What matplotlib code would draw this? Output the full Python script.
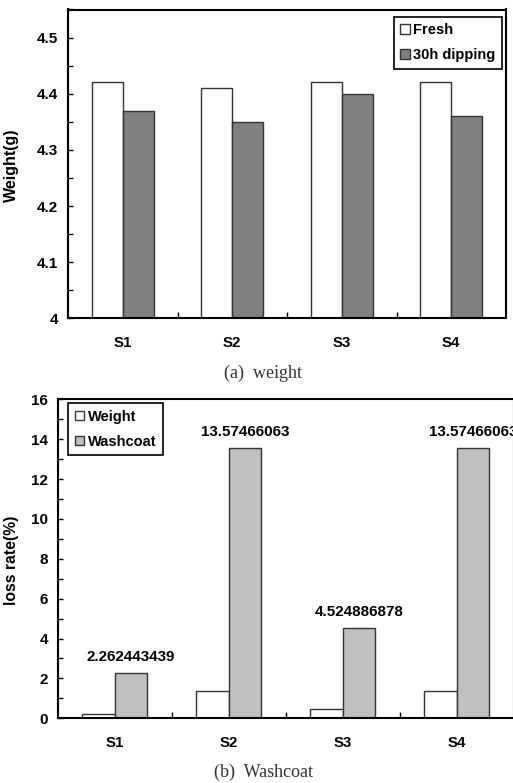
import matplotlib
matplotlib.use("Agg")
import matplotlib.pyplot as plt
import numpy as np
from matplotlib.ticker import MultipleLocator, FixedLocator

plt.rcParams['font.family'] = ['Liberation Sans', 'DejaVu Sans']
plt.rcParams['font.weight'] = 'bold'

categories = ['S1', 'S2', 'S3', 'S4']
fresh = [4.42, 4.41, 4.42, 4.42]
dipping = [4.37, 4.35, 4.40, 4.36]
weight_loss = [0.226, 1.361, 0.452, 1.357]
washcoat_loss = [2.262443439, 13.57466063, 4.524886878, 13.57466063]
washcoat_labels = ['2.262443439', '13.57466063', '4.524886878', '13.57466063']

W, H = 513, 783
fig = plt.figure(figsize=(W / 100, H / 100), dpi=100)

x = np.arange(len(categories))
bw = 0.285
edge = '#333333'

def style_axes(ax, minor_y, major_y):
    for s in ax.spines.values():
        s.set_linewidth(1.5)
        s.set_color('black')
    ax.set_xlim(-0.5, len(categories) - 0.5)
    ax.set_xticks(x)
    ax.set_xticklabels(categories, fontsize=10.8, fontweight='bold')
    ax.xaxis.set_minor_locator(FixedLocator(np.arange(0.5, len(categories) - 0.5, 1)))
    ax.tick_params(axis='x', which='major', length=0, pad=13)
    ax.tick_params(axis='x', which='minor', direction='in', length=4, width=1)
    ax.yaxis.set_major_locator(MultipleLocator(major_y))
    ax.yaxis.set_minor_locator(MultipleLocator(minor_y))
    ax.tick_params(axis='y', which='both', direction='in', length=3.5, width=1, pad=7, labelsize=11)
    for lab in ax.get_yticklabels():
        lab.set_fontweight('bold')

# ---- (a) weight ----
ax1 = fig.add_axes([68 / W, 1 - 318.3 / H, 438 / W, 308.8 / H])
ax1.bar(x - bw / 2, fresh, bw, color='white', edgecolor=edge, linewidth=1, label='Fresh')
ax1.bar(x + bw / 2, dipping, bw, color='#808080', edgecolor=edge, linewidth=1, label='30h dipping')
ax1.set_ylim(4, 4.55)
style_axes(ax1, 0.05, 0.1)
ax1.yaxis.set_major_formatter(plt.FuncFormatter(lambda v, p: ('%g' % round(v, 2))))
ax1.set_ylabel('Weight(g)', fontsize=11.5, fontweight='bold')
ax1.yaxis.set_label_coords(19 / W, 1 - 165 / H, transform=fig.transFigure)
leg1 = ax1.legend(loc='upper right', bbox_to_anchor=(0.991, 0.976), fontsize=10.5,
                  frameon=True, fancybox=False, edgecolor='black', framealpha=1,
                  handlelength=0.65, handleheight=0.65, handletextpad=0.25,
                  labelspacing=0.75, borderpad=0.45, borderaxespad=0)
leg1.get_frame().set_linewidth(1.2)
fig.text(263 / W, 1 - 373 / H, '(a)  weight', family=['Liberation Serif', 'DejaVu Serif'],
         fontweight='normal', fontsize=13, color='#333333', ha='center', va='center')

# ---- (b) Washcoat ----
ax2 = fig.add_axes([58 / W, 1 - 718.3 / H, 455.5 / W, 319 / H])
ax2.bar(x - bw / 2, weight_loss, bw, color='white', edgecolor=edge, linewidth=1, label='Weight')
bars = ax2.bar(x + bw / 2, washcoat_loss, bw, color='#c0c0c0', edgecolor=edge, linewidth=1, label='Washcoat')
ax2.set_ylim(0, 16)
style_axes(ax2, 1, 2)
ax2.set_ylabel('loss rate(%)', fontsize=11.3, fontweight='bold')
ax2.yaxis.set_label_coords(19 / W, 1 - 560 / H, transform=fig.transFigure)
for b, lab in zip(bars, washcoat_labels):
    ax2.annotate(lab, (b.get_x() + b.get_width() / 2, b.get_height()),
                 xytext=(0, 16), textcoords='offset pixels', ha='center', va='center',
                 fontsize=10.9, fontweight='bold', annotation_clip=False)
leg2 = ax2.legend(loc='upper left', bbox_to_anchor=(0.022, 0.988), fontsize=10.5,
                  frameon=True, fancybox=False, edgecolor='black', framealpha=1,
                  handlelength=0.65, handleheight=0.65, handletextpad=0.25,
                  labelspacing=0.75, borderpad=0.45, borderaxespad=0)
leg2.get_frame().set_linewidth(1.2)
fig.text(263 / W, 1 - 772 / H, '(b)  Washcoat', family=['Liberation Serif', 'DejaVu Serif'],
         fontweight='normal', fontsize=13, color='#333333', ha='center', va='center')

fig.savefig('out.png', dpi=100)
